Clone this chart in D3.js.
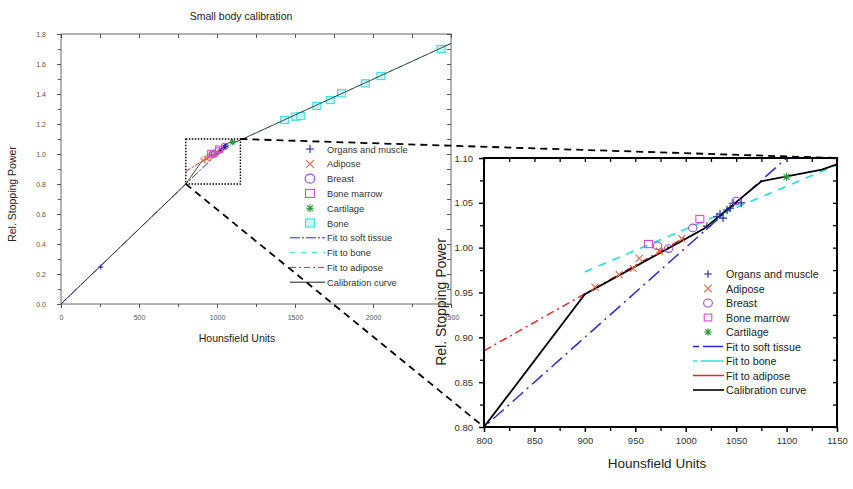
<!DOCTYPE html>
<html><head><meta charset="utf-8">
<script src="https://cdn.jsdelivr.net/npm/d3@7/dist/d3.min.js"></script>
<style>body{margin:0;background:#fff;}svg{display:block;font-family:Arial,"Liberation Sans",sans-serif;}</style>
</head><body>
<svg id="c" width="853" height="489"></svg>
<script>
// ---------- DATA ----------
const organsHU  = [255, 1021, 1031, 1034, 1037, 1041, 1044, 1047, 1055];
const organsRSP = [0.247, 1.024, 1.0345, 1.0375, 1.033, 1.042, 1.044, 1.0495, 1.050];
const adiposeHU  = [910, 934, 948, 954, 974, 996];
const adiposeRSP = [0.956, 0.970, 0.977, 0.988, 0.996, 1.010];
const breastHU  = [972, 983, 1007, 1050];
const breastRSP = [1.002, 0.999, 1.022, 1.052];
const marrowHU  = [963, 1014];
const marrowRSP = [1.004, 1.032];
const cartilageHU  = [1100];
const cartilageRSP = [1.079];
const boneHU  = [1434, 1505, 1537, 1640, 1726, 1799, 1951, 2051, 2437];
const boneRSP = [1.227, 1.249, 1.253, 1.320, 1.360, 1.405, 1.471, 1.520, 1.700];
const softFitHU = [0, 1100];           const softFitRSP = [0, 1.10];
const boneFitHU = [900, 2500];         const boneFitRSP = [0.973, 1.737];
const adipFitHU = [800, 1000];         const adipFitRSP = [0.885, 1.012];
const calibHU  = [0, 800, 900, 1018, 1075, 1135, 1150, 2500];
const calibRSP = [0, 0.80, 0.948, 1.021, 1.074, 1.087, 1.093, 1.737];
const zoomHU = [800, 1150];  const zoomRSP = [0.80, 1.10];
const leftXTicks = [0, 500, 1000, 1500, 2000, 2500];
const leftYTicks = [0, 0.2, 0.4, 0.6, 0.8, 1.0, 1.2, 1.4, 1.6, 1.8];
const rightXTicks = [800, 850, 900, 950, 1000, 1050, 1100, 1150];
const rightYTicks = [0.80, 0.85, 0.90, 0.95, 1.00, 1.05, 1.10];
const leftLegend = ["Organs and muscle","Adipose","Breast","Bone marrow","Cartilage","Bone","Fit to soft tissue","Fit to bone","Fit to adipose","Calibration curve"];
const rightLegend = ["Organs and muscle","Adipose","Breast","Bone marrow","Cartilage","Fit to soft tissue","Fit to bone","Fit to adipose","Calibration curve"];

const C = {organs:"#1c2590", adipose:"#e8673f", breast:"#9b4fd6", marrow:"#d24fd2", cart:"#2a9a3a",
  bone:"#3fdede", boneFill:"#c8f7f7", soft:"#2a2ad0", boneFit:"#35e0d8", adipFit:"#e02a2a", calib:"#000"};

const zip = (a,b)=>a.map((v,i)=>[v,b[i]]);
const svg = d3.select("#c");

function shape(type, s){
  if(type==="plus") return `M${-s},0H${s}M0,${-s}V${s}`;
  if(type==="cross") return `M${-s},${-s}L${s},${s}M${-s},${s}L${s},${-s}`;
  if(type==="star"){const t=s*0.75;return `M${-s},0H${s}M0,${-s}V${s}M${-t},${-t}L${t},${t}M${-t},${t}L${t},${-t}`;}
  return "";
}

function drawMarkers(g, x, y, pts, type, color, s, fill){
  const sel = g.selectAll(null).data(pts).enter();
  if(type==="circle"){
    sel.append("ellipse").attr("cx",d=>x(d[0])).attr("cy",d=>y(d[1])).attr("rx",s*1.1).attr("ry",s)
      .attr("fill","none").attr("stroke",color).attr("stroke-width",1.1);
  } else if(type==="square"){
    sel.append("rect").attr("x",d=>x(d[0])-s).attr("y",d=>y(d[1])-s*0.9).attr("width",2*s).attr("height",1.8*s)
      .attr("fill",fill||"none").attr("stroke",color).attr("stroke-width",1.1);
  } else {
    sel.append("path").attr("transform",d=>`translate(${x(d[0])},${y(d[1])})`).attr("d",shape(type,s))
      .attr("fill","none").attr("stroke",color).attr("stroke-width",1.1);
  }
}
function drawLine(g, x, y, pts, color, w, dash){
  g.append("path").datum(pts).attr("d",d3.line().x(d=>x(d[0])).y(d=>y(d[1])))
    .attr("fill","none").attr("stroke",color).attr("stroke-width",w).attr("stroke-dasharray",dash||null);
}

// ---------- LEFT CHART ----------
const L = {l:61, r:451, t:34, b:304};
const xL = d3.scaleLinear().domain([0,2500]).range([L.l,L.r]);
const yL = d3.scaleLinear().domain([0,1.8]).range([L.b,L.t]);
const gL = svg.append("g");
gL.append("rect").attr("x",L.l).attr("y",L.t).attr("width",L.r-L.l).attr("height",L.b-L.t)
  .attr("fill","none").attr("stroke","#666").attr("stroke-width",1);
function axisStyle(g, col){ g.select(".domain").remove(); g.selectAll("line").attr("stroke",col); g.selectAll("text").attr("fill",col);}
// bottom
gL.append("g").attr("transform",`translate(0,${L.b})`)
  .call(d3.axisBottom(xL).tickValues(leftXTicks).tickSize(4).tickPadding(7).tickFormat(d3.format("d")))
  .call(g=>{axisStyle(g,"#555"); g.selectAll("text").attr("font-size",7);});
gL.append("g").attr("transform",`translate(0,${L.b})`)
  .call(d3.axisBottom(xL).tickValues(d3.range(250,2500,500)).tickSize(3).tickFormat(""))
  .call(g=>axisStyle(g,"#555"));
// top (inward)
gL.append("g").attr("transform",`translate(0,${L.t})`)
  .call(d3.axisBottom(xL).tickValues(d3.range(0,2501,250)).tickSize(4).tickFormat(""))
  .call(g=>axisStyle(g,"#555"));
// left
gL.append("g").attr("transform",`translate(${L.l},0)`)
  .call(d3.axisLeft(yL).tickValues(leftYTicks).tickSize(4).tickPadding(11).tickFormat(d3.format(".1f")))
  .call(g=>{axisStyle(g,"#555"); g.selectAll("text").attr("font-size",7);});
gL.append("g").attr("transform",`translate(${L.l},0)`)
  .call(d3.axisLeft(yL).tickValues(d3.range(0.1,1.8,0.2)).tickSize(3).tickFormat(""))
  .call(g=>axisStyle(g,"#555"));
// right (inward)
gL.append("g").attr("transform",`translate(${L.r},0)`)
  .call(d3.axisLeft(yL).tickValues(d3.range(0,1.81,0.1)).tickSize(4).tickFormat(""))
  .call(g=>axisStyle(g,"#555"));

gL.append("text").attr("x",241).attr("y",20).attr("text-anchor","middle").attr("font-size",10.5).attr("fill","#222").text("Small body calibration");
gL.append("text").attr("x",237).attr("y",342).attr("text-anchor","middle").attr("font-size",10.5).attr("fill","#222").text("Hounsfield Units");
gL.append("text").attr("transform","translate(16,194) rotate(-90)").attr("text-anchor","middle").attr("font-size",10.5).attr("fill","#222").text("Rel. Stopping Power");

const clipL = svg.append("clipPath").attr("id","clipL").append("rect").attr("x",L.l).attr("y",L.t).attr("width",L.r-L.l).attr("height",L.b-L.t);
const pL = gL.append("g").attr("clip-path","url(#clipL)");
drawLine(pL,xL,yL,zip(softFitHU,softFitRSP),C.soft,1,"8,2,2,2");
drawLine(pL,xL,yL,zip(adipFitHU,adipFitRSP),C.adipFit,1,"5,2,2,2");
drawLine(pL,xL,yL,zip(boneFitHU,boneFitRSP),C.boneFit,1,"5,4");
drawMarkers(pL,xL,yL,zip(boneHU,boneRSP),"square",C.bone,4,C.boneFill);
drawLine(pL,xL,yL,zip(calibHU,calibRSP),"#333",0.9);
drawMarkers(pL,xL,yL,zip(organsHU,organsRSP),"plus",C.organs,2.5);
drawMarkers(pL,xL,yL,zip(adiposeHU,adiposeRSP),"cross",C.adipose,2.5);
drawMarkers(pL,xL,yL,zip(breastHU,breastRSP),"circle",C.breast,3);
drawMarkers(pL,xL,yL,zip(marrowHU,marrowRSP),"square",C.marrow,3.5);
drawMarkers(pL,xL,yL,zip(cartilageHU,cartilageRSP),"star",C.cart,3);
// zoom box
gL.append("rect").attr("x",xL(zoomHU[0])).attr("y",yL(zoomRSP[1]))
  .attr("width",xL(zoomHU[1])-xL(zoomHU[0])).attr("height",yL(zoomRSP[0])-yL(zoomRSP[1]))
  .attr("fill","none").attr("stroke","#000").attr("stroke-width",1.4).attr("stroke-dasharray","1.5,1.5");

// left legend
const legL = gL.append("g");
const lTypes = ["plus","cross","circle","square","star","square","line","line","line","line"];
const lCols = [C.organs,C.adipose,C.breast,C.marrow,C.cart,C.bone,C.soft,C.boneFit,C.adipFit,"#222"];
const lDash = [null,null,null,null,null,null,"10,2,2,2","5,6","6,3,2,3",null];
leftLegend.forEach((name,i)=>{
  const yy = 149 + i*14.8;
  if(lTypes[i]==="line"){
    legL.append("line").attr("x1",290).attr("x2",325).attr("y1",yy).attr("y2",yy).attr("stroke",lCols[i]).attr("stroke-width",1).attr("stroke-dasharray",lDash[i]);
  } else {
    const xs = d3.scaleLinear().domain([0,1]).range([310,311]);
    const ys = d3.scaleLinear().domain([0,1]).range([yy,yy+1]);
    const sz = lTypes[i]==="circle"?4.5:(lTypes[i]==="square"?4.5:4);
    drawMarkers(legL, xs, ys, [[0,0]], lTypes[i], lCols[i], sz, i===5?C.boneFill:null);
  }
  legL.append("text").attr("x",327).attr("y",yy+3.5).attr("font-size",9.3).attr("fill","#333").text(name);
});

// ---------- RIGHT CHART ----------
const R = {l:484, r:837, t:158, b:427};
const xR = d3.scaleLinear().domain([800,1150]).range([R.l,R.r]);
const yR = d3.scaleLinear().domain([0.80,1.10]).range([R.b,R.t]);
const gR = svg.append("g");
gR.append("g").attr("transform",`translate(0,${R.b})`)
  .call(d3.axisBottom(xR).tickValues(rightXTicks).tickSize(5).tickPadding(5).tickFormat(d3.format("d")))
  .call(g=>{axisStyle(g,"#000"); g.selectAll("line").attr("stroke-width",1.5); g.selectAll("text").attr("font-size",9.5).attr("fill","#333");});
gR.append("g").attr("transform",`translate(0,${R.b})`)
  .call(d3.axisBottom(xR).tickValues(d3.range(825,1150,50)).tickSize(4).tickFormat(""))
  .call(g=>{axisStyle(g,"#000"); g.selectAll("line").attr("stroke-width",1.3);});
gR.append("g").attr("transform",`translate(${R.l},0)`)
  .call(d3.axisLeft(yR).tickValues(rightYTicks).tickSize(5).tickPadding(6).tickFormat(d3.format(".2f")))
  .call(g=>{axisStyle(g,"#000"); g.selectAll("line").attr("stroke-width",1.5); g.selectAll("text").attr("font-size",9.5).attr("fill","#333");});
gR.append("g").attr("transform",`translate(${R.l},0)`)
  .call(d3.axisLeft(yR).tickValues(d3.range(0.825,1.1,0.05)).tickSize(4).tickFormat(""))
  .call(g=>{axisStyle(g,"#000"); g.selectAll("line").attr("stroke-width",1.3);});
gR.append("g").attr("transform",`translate(0,${R.t})`)
  .call(d3.axisBottom(xR).tickValues(d3.range(800,1151,25)).tickSize(4).tickFormat(""))
  .call(g=>{axisStyle(g,"#000"); g.selectAll("line").attr("stroke-width",1.3);});
gR.append("g").attr("transform",`translate(${R.r},0)`)
  .call(d3.axisLeft(yR).tickValues(d3.range(0.80,1.101,0.025)).tickSize(4).tickFormat(""))
  .call(g=>{axisStyle(g,"#000"); g.selectAll("line").attr("stroke-width",1.3);});

svg.append("clipPath").attr("id","clipR").append("rect").attr("x",R.l).attr("y",R.t).attr("width",R.r-R.l).attr("height",R.b-R.t);
const pR = gR.append("g").attr("clip-path","url(#clipR)");
drawLine(pR,xR,yR,zip(softFitHU,softFitRSP),C.soft,1.5,"14,5,2,5");
drawLine(pR,xR,yR,zip(adipFitHU,adipFitRSP),C.adipFit,1.5,"8,4,2,4");
drawLine(pR,xR,yR,zip(boneFitHU,boneFitRSP),C.boneFit,1.8,"8,7");
drawLine(pR,xR,yR,zip(calibHU,calibRSP),"#000",1.8);
drawMarkers(pR,xR,yR,zip(organsHU,organsRSP),"plus",C.organs,4);
drawMarkers(pR,xR,yR,zip(adiposeHU,adiposeRSP),"cross",C.adipose,3.5);
drawMarkers(pR,xR,yR,zip(breastHU,breastRSP),"circle",C.breast,3.8);
drawMarkers(pR,xR,yR,zip(marrowHU,marrowRSP),"square",C.marrow,4);
drawMarkers(pR,xR,yR,zip(cartilageHU,cartilageRSP),"star",C.cart,4);
gR.append("rect").attr("x",R.l).attr("y",R.t).attr("width",R.r-R.l).attr("height",R.b-R.t)
  .attr("fill","none").attr("stroke","#000").attr("stroke-width",2);

gR.append("text").attr("x",657).attr("y",468).attr("text-anchor","middle").attr("font-size",13.5).attr("fill","#222").text("Hounsfield Units");
gR.append("text").attr("transform","translate(446,302) rotate(-90)").attr("text-anchor","middle").attr("font-size",14).attr("fill","#222").text("Rel. Stopping Power");

// right legend
const legR = gR.append("g");
const rTypes = ["plus","cross","circle","square","star","line","line","line","line"];
const rCols = [C.organs,C.adipose,C.breast,C.marrow,C.cart,C.soft,C.boneFit,C.adipFit,"#000"];
const rDash = [null,null,null,null,null,"6,4,14,0","4,4,30,0","30,0",null];
rightLegend.forEach((name,i)=>{
  const yy = 274 + i*14.5;
  if(rTypes[i]==="line"){
    legR.append("line").attr("x1",693).attr("x2",724).attr("y1",yy).attr("y2",yy).attr("stroke",rCols[i]).attr("stroke-width",1.6).attr("stroke-dasharray",rDash[i]);
  } else {
    const xs = d3.scaleLinear().domain([0,1]).range([708,709]);
    const ys = d3.scaleLinear().domain([0,1]).range([yy,yy+1]);
    drawMarkers(legR, xs, ys, [[0,0]], rTypes[i], rCols[i], rTypes[i]==="circle"?4:3.8);
  }
  legR.append("text").attr("x",726).attr("y",yy+4).attr("font-size",10.7).attr("fill","#222").text(name);
});

// ---------- CONNECTORS ----------
const conn = [[[xL(zoomHU[1]),yL(zoomRSP[1])],[xR(zoomHU[1]),yR(zoomRSP[1])]],
              [[xL(zoomHU[0]),yL(zoomRSP[0])],[xR(zoomHU[0]),yR(zoomRSP[0])]]];
svg.append("g").selectAll("line").data(conn).enter().append("line")
  .attr("x1",d=>d[0][0]).attr("y1",d=>d[0][1]).attr("x2",d=>d[1][0]).attr("y2",d=>d[1][1])
  .attr("stroke","#000").attr("stroke-width",1.8).attr("stroke-dasharray","7,5");
</script>
</body></html>
